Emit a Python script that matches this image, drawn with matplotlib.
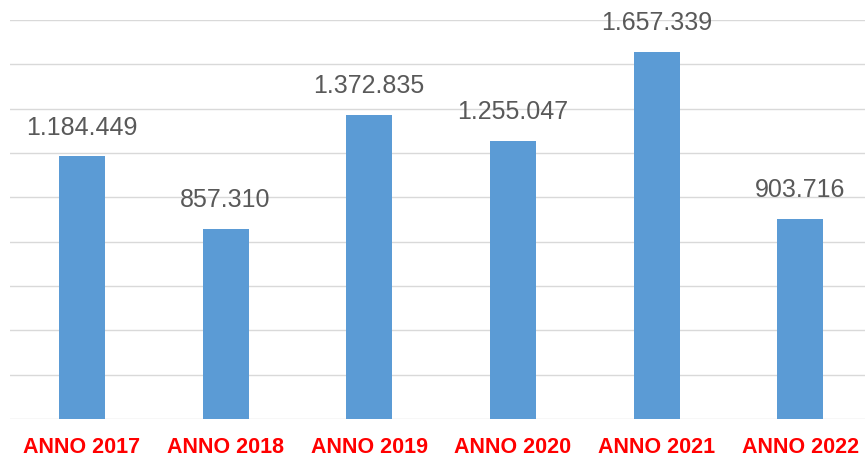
import numpy as np
import matplotlib
matplotlib.use("Agg")
import matplotlib.pyplot as plt

# data
anni = ["ANNO 2017", "ANNO 2018", "ANNO 2019", "ANNO 2020", "ANNO 2021", "ANNO 2022"]
valori = [1184449, 857310, 1372835, 1255047, 1657339, 903716]

def fmt_it(v):
	# italian thousands separator
	return "{:,}".format(v).replace(",", ".")

plt.rcParams['font.family'] = ['Liberation Sans', 'DejaVu Sans']

fig = plt.figure(figsize=(8.65, 4.59), dpi=100)
ax = fig.add_axes([10/865, 40/459, 1 - 10/865, (419-20)/459])

x = np.arange(len(anni))
bars = ax.bar(x, valori, width=0.32, color="#5B9BD5", zorder=3)

for xi, v in zip(x, valori):
	ax.annotate(fmt_it(v), (xi, v), xytext=(0, 12), textcoords="offset points",
		ha="center", va="bottom", fontsize=18, color="#595959")

ax.set_xlim(-0.5, 5.45)
ax.set_ylim(0, 1800000)
ax.set_yticks(np.arange(0, 1800001, 200000))
ax.yaxis.grid(True, color="#D9D9D9", linewidth=1.0, zorder=0)
ax.set_yticklabels([])
ax.tick_params(axis="y", length=0)

ax.set_xticks(x)
ax.set_xticklabels(anni, fontsize=15.5, fontweight="bold", color="#FF0000")
ax.tick_params(axis="x", length=0, pad=13)

for s in ax.spines.values():
	s.set_visible(False)

fig.savefig("out.png", dpi=100)
